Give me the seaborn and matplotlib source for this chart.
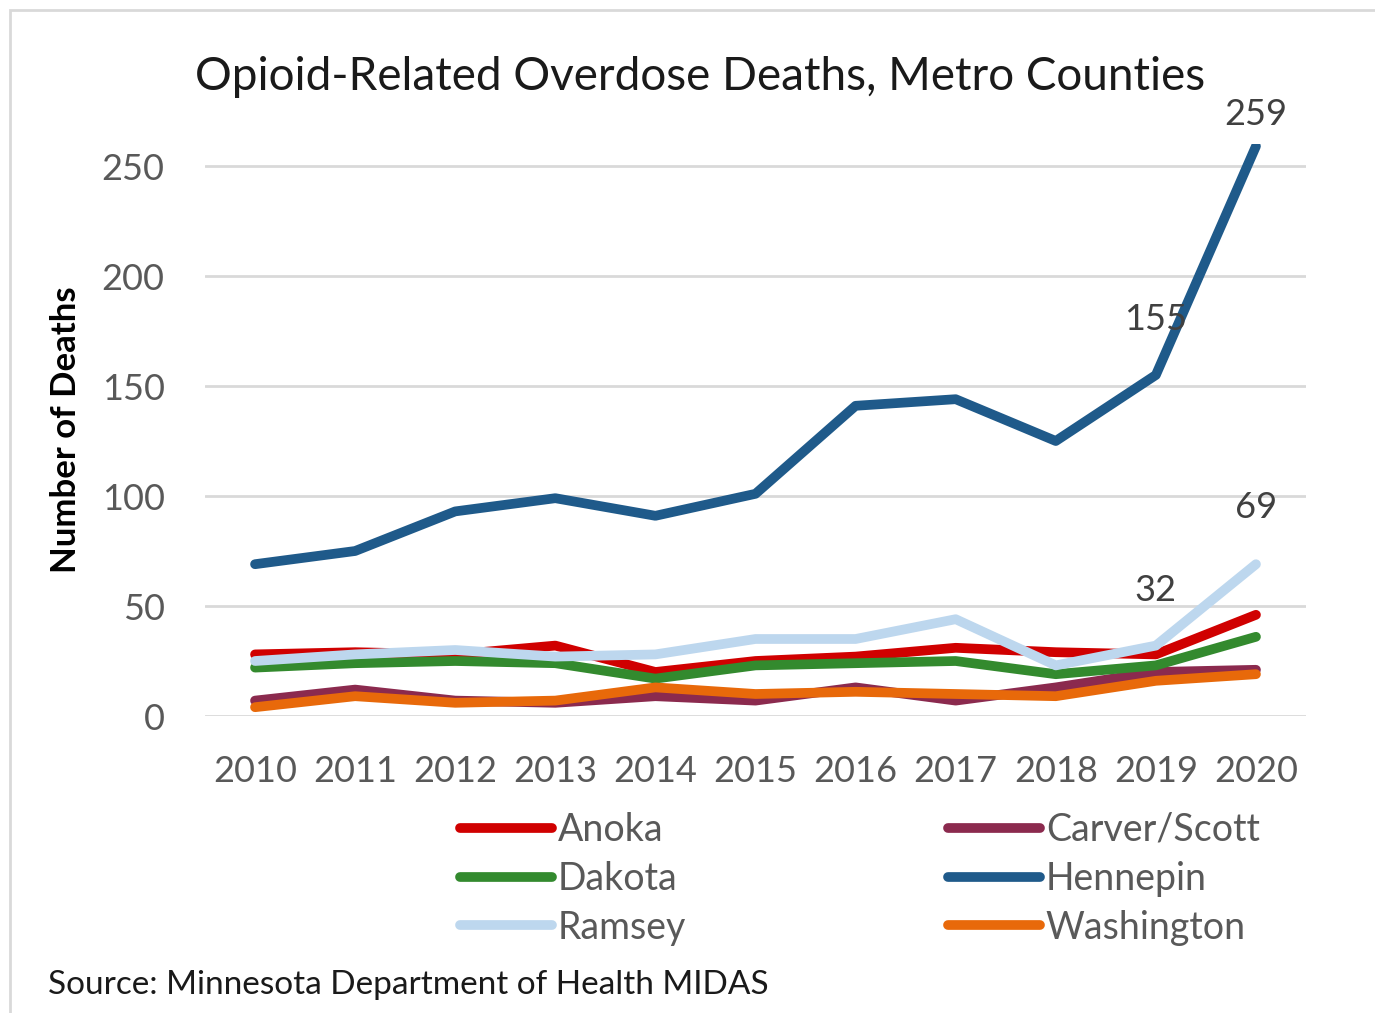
import matplotlib
matplotlib.use("Agg")
import matplotlib.pyplot as plt
import seaborn as sns
import pandas as pd
from matplotlib.lines import Line2D
from matplotlib.patches import Rectangle

years = list(range(2010, 2021))
anoka = [28, 29, 28, 32, 20, 25, 27, 31, 29, 28, 46]
carver_scott = [7, 12, 7, 6, 9, 7, 13, 7, 13, 20, 21]
dakota = [22, 24, 25, 24, 17, 23, 24, 25, 19, 23, 36]
hennepin = [69, 75, 93, 99, 91, 101, 141, 144, 125, 155, 259]
ramsey = [25, 28, 30, 27, 28, 35, 35, 44, 23, 32, 69]
washington = [4, 9, 6, 7, 13, 10, 11, 10, 9, 16, 19]

counties = ["Anoka", "Carver/Scott", "Dakota", "Hennepin", "Ramsey", "Washington"]
series = [anoka, carver_scott, dakota, hennepin, ramsey, washington]
colors = ["#D00000", "#8B2A4E", "#338A2E", "#1F5A8A", "#BDD7EE", "#E8690A"]

df = pd.DataFrame({
    "Year": years * len(counties),
    "Deaths": [v for s in series for v in s],
    "County": [c for c in counties for _ in years],
})

sns.set_theme(style="white")
plt.rcParams["font.family"] = ["Lato", "DejaVu Sans"]

fig = plt.figure(figsize=(13.75, 10.13), dpi=100)
ax = fig.add_axes([205 / 1375, 1 - 716 / 1013, 1101 / 1375, 572 / 1013])

sns.lineplot(data=df, x="Year", y="Deaths", hue="County", hue_order=counties,
             palette=colors, linewidth=7, ax=ax, legend=False,
             solid_capstyle="round", solid_joinstyle="round")

ax.set_xlim(2009.5, 2020.5)
ax.set_ylim(0, 260)
ax.set_yticks([0, 50, 100, 150, 200, 250])
ax.set_xticks(years)
ax.yaxis.grid(True, color="#D9D9D9", linewidth=2)
ax.set_axisbelow(True)
for s in ax.spines.values():
    s.set_visible(False)
ax.tick_params(axis="both", labelsize=26, labelcolor="#595959", length=0)
ax.tick_params(axis="y", pad=29)
ax.tick_params(axis="x", pad=28)
ax.set_xlabel("")
ax.set_ylabel("Number of Deaths", fontsize=25, fontweight="bold", color="black", labelpad=14)

# value labels
label_kw = dict(textcoords="offset points", ha="center", va="center",
                fontsize=26, color="#404040")
ax.annotate(f"{hennepin[-1]}", (years[-1], hennepin[-1]), xytext=(0, 23), **label_kw)
ax.annotate(f"{hennepin[-2]}", (years[-2], hennepin[-2]), xytext=(0, 40), **label_kw)
ax.annotate(f"{ramsey[-1]}", (years[-1], ramsey[-1]), xytext=(0, 41), **label_kw)
ax.annotate(f"{ramsey[-2]}", (years[-2], ramsey[-2]), xytext=(0, 40), **label_kw)

# legend: two columns, filled column by column
order = ["Anoka", "Dakota", "Ramsey", "Carver/Scott", "Hennepin", "Washington"]
cmap = dict(zip(counties, colors))
handles = [Line2D([0], [0], color=cmap[c], linewidth=7, solid_capstyle="round") for c in order]
leg = fig.legend(handles, order, loc="upper left", bbox_to_anchor=(445 / 1375, 1 - 797 / 1013),
                 ncol=2, frameon=False, fontsize=27, handlelength=2.45, handletextpad=0.15,
                 columnspacing=7.0, labelspacing=0.34, borderaxespad=0)
for t in leg.get_texts():
    t.set_color("#595959")

fig.text(700 / 1375, 1 - 77 / 1013, "Opioid-Related Overdose Deaths, Metro Counties",
         ha="center", va="center", fontsize=33, color="#1a1a1a")
fig.text(48 / 1375, 1 - 985 / 1013, "Source: Minnesota Department of Health MIDAS",
         ha="left", va="center", fontsize=24, color="#1a1a1a")

fig.patches.append(Rectangle((10 / 1375, -0.1), 1.2, 1 - 10 / 1013 + 0.1,
                             transform=fig.transFigure, fill=False,
                             edgecolor="#D9D9D9", linewidth=2))

fig.savefig("out.png", dpi=100)
